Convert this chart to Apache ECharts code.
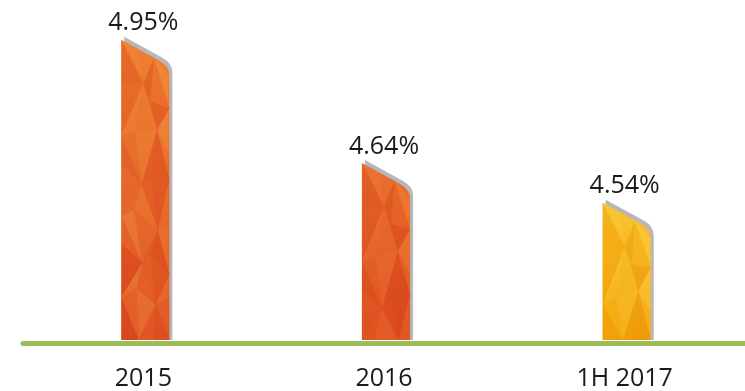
<!DOCTYPE html>
<html><head><meta charset="utf-8">
<script src="https://cdn.jsdelivr.net/npm/echarts@6/dist/echarts.min.js"></script>
<style>html,body{margin:0;padding:0;background:#fff}#c{width:745px;height:391px}</style>
</head><body><div id="c"></div>
<script>
const categories = ['2015', '2016', '1H 2017'];
const rates = [4.95, 4.64, 4.54];
const valueLabels = ['4.95%', '4.64%', '4.54%'];
const axisMin = 4.194, axisMax = 5.0;

const baseGrad = [['#EF8232', '#D8441E'], ['#EB7430', '#D8461C'], ['#F9C432', '#EF9C06']];
const palettes = [
  ['#F08838', '#E86A2A', '#EE7C34', '#E05A24', '#F29444', '#DD4E1E', '#E97430', '#D94A1C'],
  ['#EC7432', '#E45E26', '#E96A2C', '#DC4E1E', '#F0843A', '#D8461C', '#E66428', '#D44418'],
  ['#FAC83A', '#F6B416', '#F9C028', '#F2A40A', '#FCD24A', '#EFA006', '#F7BA1E', '#EE9A10']
];
const jitter = [0, 0.1, -0.08, 0.06, -0.1, 0.08, -0.04];

function renderItem(params, api) {
  const i = api.value(0);
  const v = api.value(1);
  const top = api.coord([i, v]);
  const bot = api.coord([i, axisMin]);
  const band = api.size([1, 0])[0];
  const w = band * 0.2;
  const cx = top[0] + 2;
  const x0 = cx - w / 2, x1 = cx + w / 2, yT = top[1], yB = bot[1];
  const s = 0.55, k = 10, r = 15;
  const yS = yT + s * (w - k);
  function shape(dx, dy) {
    return 'M' + (x0 + dx) + ',' + yB + ' L' + (x0 + dx) + ',' + (yT + dy) +
      ' L' + (x1 - k + dx) + ',' + (yS + dy) +
      ' Q' + (x1 + dx) + ',' + (yS + s * k + dy) + ' ' + (x1 + dx) + ',' + (yS + r + dy) +
      ' L' + (x1 + dx) + ',' + yB + ' Z';
  }
  function topY(x) {
    if (x <= x1 - k) return yT + s * (x - x0);
    return yS + (x - (x1 - k)) / k * r;
  }
  const children = [];
  children.push({ type: 'path', shape: { pathData: shape(3, -3) }, style: { fill: '#B6B6BC' } });
  children.push({
    type: 'path', shape: { pathData: shape(0, 0) },
    style: { fill: { type: 'linear', x: 0, y: 0, x2: 0, y2: 1, colorStops: [{ offset: 0, color: baseGrad[i][0] }, { offset: 1, color: baseGrad[i][1] }] } }
  });
  // low-poly texture
  const nRows = Math.max(3, Math.round((yB - yT) / 45));
  const pts = [];
  for (let j = 0; j <= nRows; j++) {
    const jt = jitter[j % jitter.length];
    const us = [0, 0.36 + jt, 0.68 - jt * 0.8, 1];
    const row = [];
    for (let c = 0; c < us.length; c++) {
      const x = x0 + us[c] * w;
      const ty = topY(x);
      let y;
      if (j === 0) y = ty;
      else if (j === nRows) y = yB;
      else y = ty + (yB - ty) * (j / nRows) + (((j * 7 + c * 3) % 5) - 2) * 5;
      row.push([x, y]);
    }
    pts.push(row);
  }
  const pal = palettes[i];
  for (let j = 0; j < nRows; j++) {
    for (let c = 0; c < 3; c++) {
      const a = pts[j][c], b = pts[j][c + 1], d = pts[j + 1][c], e = pts[j + 1][c + 1];
      const diag = (j + c) % 2 === 0;
      const t1 = diag ? [a, b, e] : [a, b, d];
      const t2 = diag ? [a, e, d] : [b, e, d];
      children.push({ type: 'polygon', shape: { points: t1 }, style: { fill: pal[(j * 3 + c * 2) % pal.length], opacity: 0.45 } });
      children.push({ type: 'polygon', shape: { points: t2 }, style: { fill: pal[(j * 3 + c * 2 + 5) % pal.length], opacity: 0.45 } });
    }
  }
  children.push({
    type: 'text',
    style: { text: valueLabels[i], x: cx - 2, y: yT - 4, align: 'center', verticalAlign: 'bottom', fontSize: 25, fontFamily: 'Open Sans', fill: '#1a1a1a' }
  });
  return { type: 'group', children: children };
}

const chart = echarts.init(document.getElementById('c'), null, { renderer: 'canvas' });
chart.setOption({
  animation: false,
  backgroundColor: '#fff',
  grid: { left: 23, right: -5, top: 20, bottom: 51 },
  xAxis: {
    type: 'category', data: categories, offset: 3,
    axisLine: { show: true, lineStyle: { color: '#9BBB59', width: 5 } },
    axisTick: { show: false },
    axisLabel: { fontSize: 25, fontFamily: 'Open Sans', color: '#1a1a1a', margin: 23 }
  },
  yAxis: { type: 'value', min: axisMin, max: axisMax, show: false, splitLine: { show: false } },
  series: [{
    type: 'custom',
    renderItem: renderItem,
    data: rates.map((r, idx) => [idx, r]),
    encode: { x: 0, y: 1 },
    z: 1
  }]
});
</script>
</body></html>
